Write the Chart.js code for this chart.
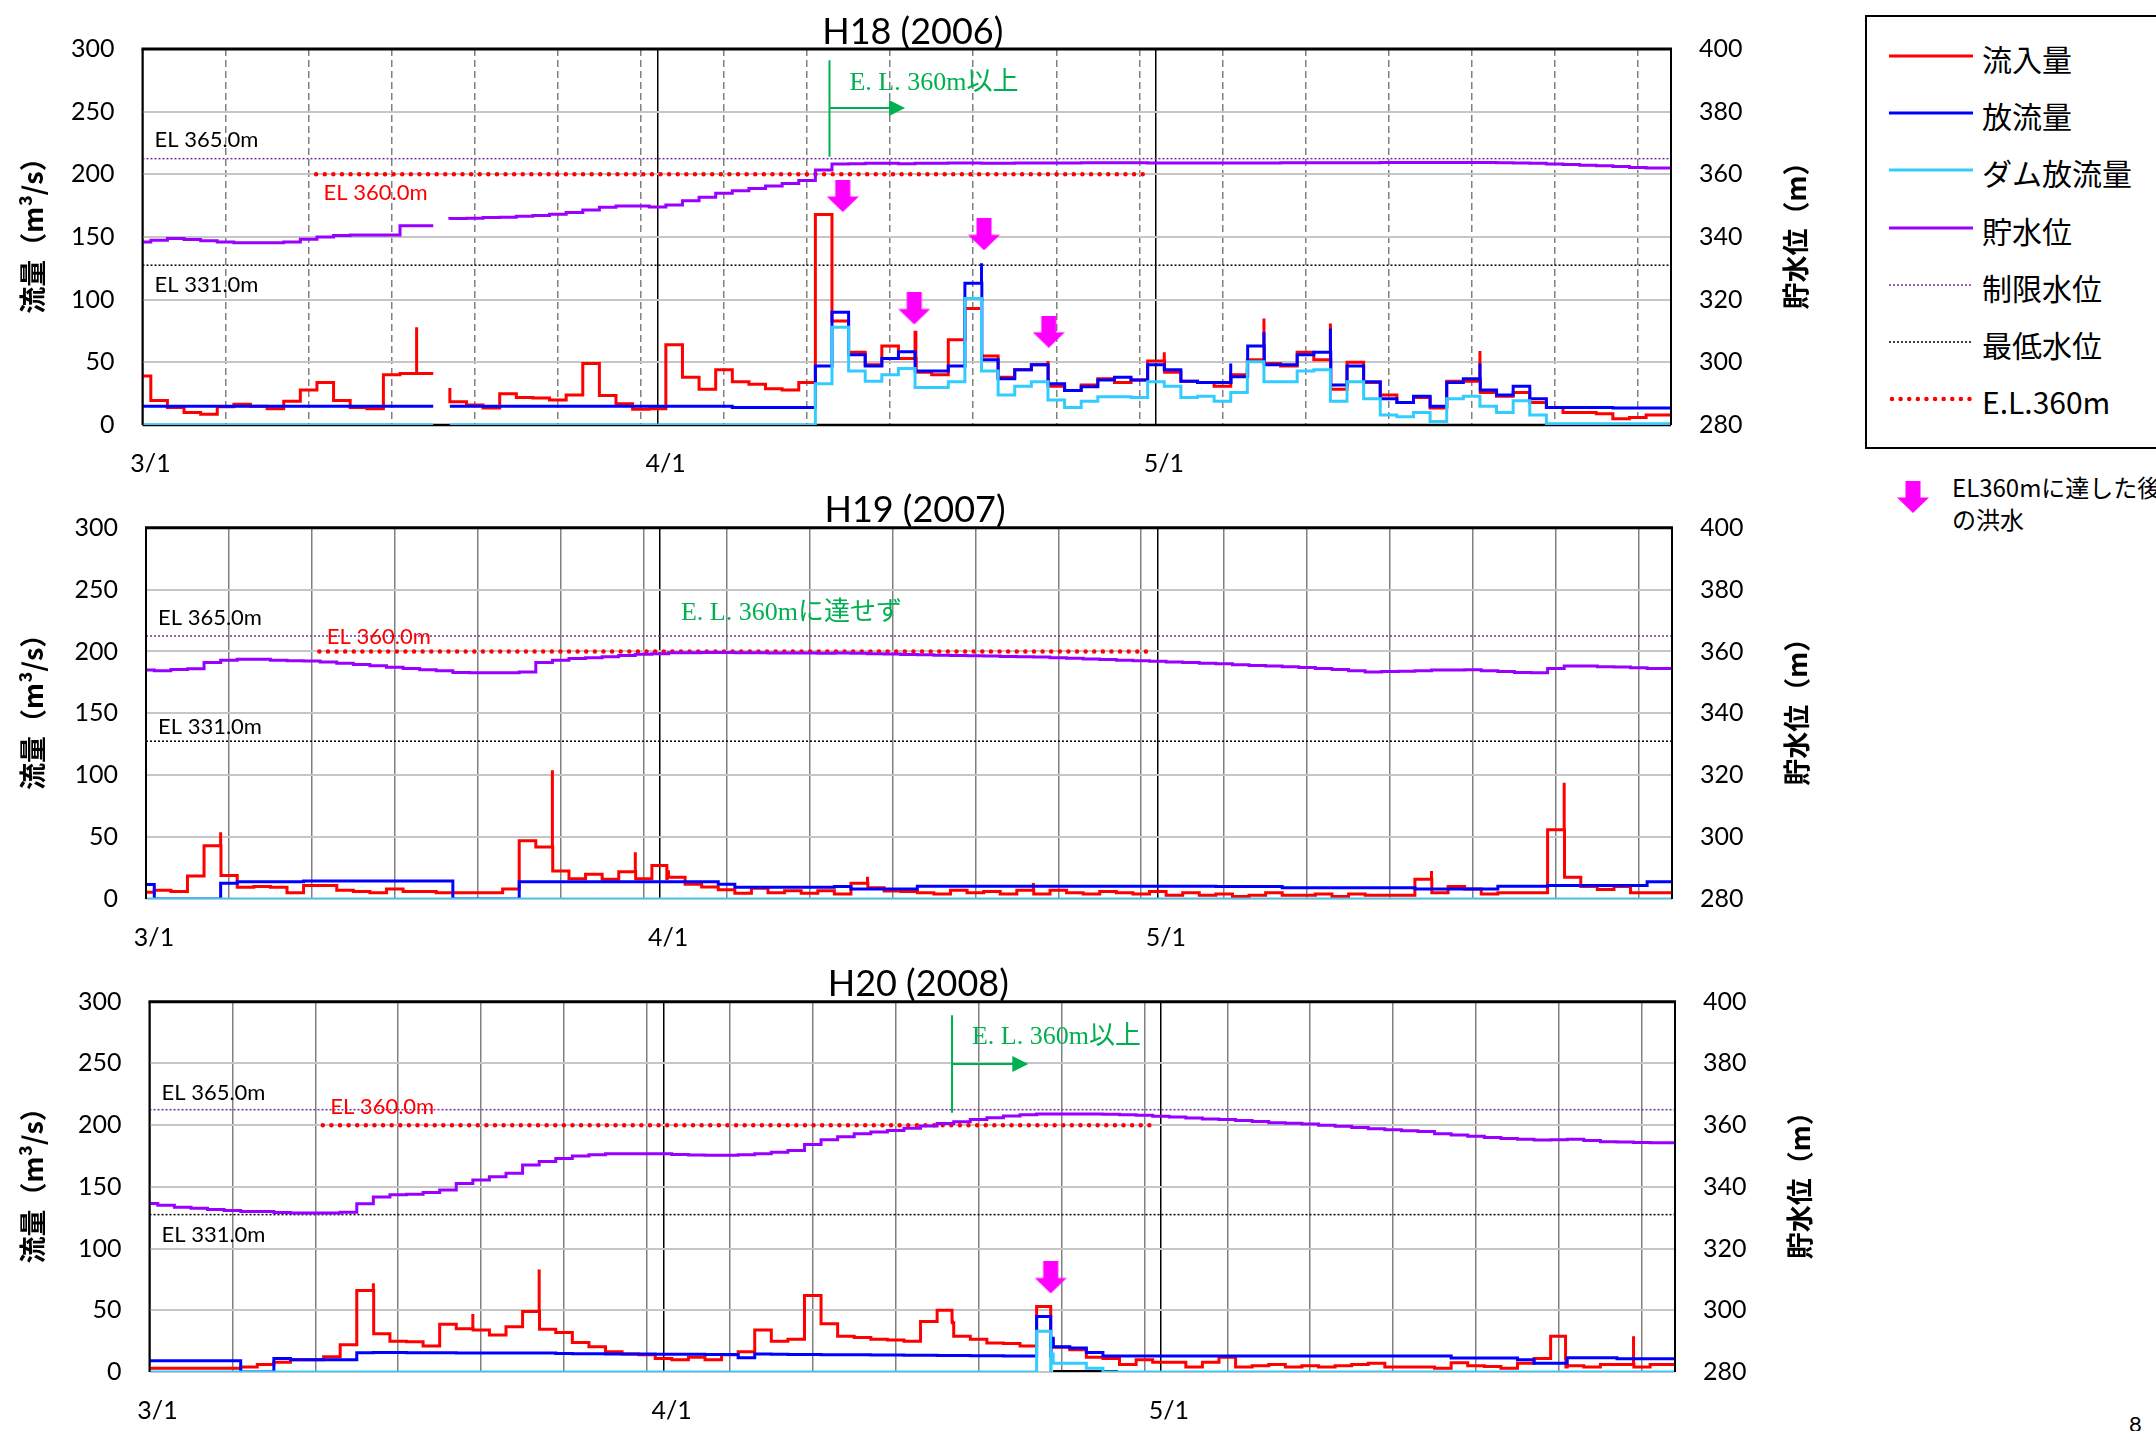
<!DOCTYPE html>
<html lang="ja">
<head>
<meta charset="utf-8">
<title>流量・貯水位 H18〜H20</title>
<script src="https://cdn.jsdelivr.net/npm/chart.js"></script>
<style>
  body { margin: 0; background: #fff; }
  #page { position: relative; width: 2156px; height: 1431px; overflow: hidden; background: #fff; }
  canvas.panel { position: absolute; left: 0; }
  #legend { position: absolute; left: 1865px; top: 15px; width: 300px; height: 434px; border: 2px solid #000; box-sizing: border-box; }
  .item { position: absolute; left: 0; width: 100%; height: 40px; }
  .item canvas { position: absolute; left: 22px; top: 15px; }
  .item span { position: absolute; left: 115px; top: 0; line-height: 40px; font: 30px "Noto Sans CJK JP"; white-space: nowrap; }
  #flood { position: absolute; left: 1897px; top: 481px; }
  #floodText { position: absolute; left: 1952px; top: 471px; font: 24px "Noto Sans CJK JP"; line-height: 32px; white-space: nowrap; }
  #pageNo { position: absolute; left: 2129px; top: 1410px; font: 22px Lato; }
</style>
</head>
<body>
<div id="page">
  <canvas id="c1" class="panel" width="1850" height="480" style="top:0px"></canvas>
  <canvas id="c2" class="panel" width="1850" height="476" style="top:480px"></canvas>
  <canvas id="c3" class="panel" width="1850" height="476" style="top:955px"></canvas>
  <div id="legend"></div>
  <canvas id="flood" width="32" height="32"></canvas>
  <div id="floodText">EL360mに達した後<br>の洪水</div>
  <div id="pageNo">8</div>
</div>
<script>
// 3/1 = day 0, one value per day (value i covers day i-0.5 .. i+0.5)
const gridDays = [0, 5, 10, 15, 20, 25, 30, 31, 35, 40, 45, 50, 55, 60, 61, 65, 70, 75, 80, 85, 90];
const monthDays = [0, 31, 61];
const monthLabels = ['3/1', '4/1', '5/1'];
const flowTicks = [0, 50, 100, 150, 200, 250, 300];
const levelTicks = [280, 300, 320, 340, 360, 380, 400];
const titles = ['H18 (2006)', 'H19 (2007)', 'H20 (2008)'];
const seriesNames = ['流入量', '放流量', 'ダム放流量', '貯水位', '制限水位', '最低水位', 'E.L.360m'];
const levelNames = ['EL 365.0m', 'EL 331.0m', 'EL 360.0m'];
const limitLevel = 365, lowestLevel = 331, targetLevel = 360;
const targetFrom = 10.45, targetTo = 60.45;

// H18 (2006)
const h18Inflow = [16, 39, 19.5, 14, 10, 8.5, 14.5, 16.5, 15, 13,
  19, 28, 34, 19.5, 14, 13, 40, 41, null, 29.5,
  18.5, 16, 13.5, 25, 22, 21.5, 20, 24, 49, 23.5,
  17, 12.5, 13, 64, 38, 28.5, 44, 34.5, 32.5, 29,
  28, 34, 168, 83, 58, 48, 63, 53, 42, 40,
  68, 93, 55, 38, 44, 48, 31, 27.5, 32, 37,
  34, 36, 51, 42, 35, 34, 31, 40, 52, 49,
  47, 58, 52, 28.5, 50, 34, 24, 18, 22, 13.5,
  35, 35, 26, 23, 26, 18, 14, 10, 10, 9,
  5, 6, 8];
const h18InSpikeX = [16.5, 46.55, 54.5, 61.5, 67.5, 71.5, 80.5];
const h18InSpikeY = [78, 74, 51, 58, 85, 81, 59];
const h18Outflow = [15, 15, 15, 15, 15, 15, 15, 15, 15, 15,
  15, 15, 15, 15, 15, 15, 15, 15, null, 15,
  15, 15, 15, 15, 15, 15, 15, 15, 15, 15,
  15, 15, 15, 15, 15, 15, 15, 14, 14, 14,
  14, 14, 47, 90, 56, 47, 53, 58.5, 43, 43,
  47, 113, 52, 37, 44, 48, 33, 27.5, 30.5, 36,
  38, 36, 48, 44, 35, 34, 34, 38.5, 63, 48,
  48, 56, 58, 32, 47, 34.6, 21, 18, 23, 15,
  34, 37, 28, 24, 31, 21, 14, 14, 14, 14,
  13.5, 13.5, 13.5];
const h18OutSpikeX = [50.5, 65.5, 66.5, 67.5, 71.5, 80.5];
const h18OutSpikeY = [129, 49, 46, 74, 77, 49];
const h18DamOut = [0, 0, 0, 0, 0, 0, 0, 0, 0, 0,
  0, 0, 0, 0, 0, 0, 0, 0, null, 0,
  0, 0, 0, 0, 0, 0, 0, 0, 0, 0,
  0, 0, 0, 0, 0, 0, 0, 0, 0, 0,
  0, 0, 33, 78, 43, 35, 40, 45, 30, 30,
  34.6, 101, 43, 24, 31, 34.6, 20, 14, 19, 22.6,
  22.6, 22, 34.6, 31, 22, 23, 19, 26, 50.5, 34.6,
  34.6, 43, 44, 19, 34.6, 21, 8, 6.6, 10, 2.7,
  21, 23, 15, 10, 19.4, 8, 1, 1, 1, 1,
  1, 1, 1];
const h18Level = [337.7, 338.4, 339.0, 339.5, 339.2, 338.8, 338.4, 338.2, 338.2, 338.2,
  338.4, 339.3, 340.0, 340.5, 340.6, 340.6, 340.6, 343.6, null, 345.5,
  345.9, 346.0, 346.2, 346.3, 346.6, 346.9, 347.3, 347.8, 348.6, 349.5,
  349.9, 349.9, 349.6, 350.2, 351.6, 352.7, 354.0, 354.8, 355.5, 356.3,
  357.1, 358.0, 361.4, 363.3, 363.4, 363.5, 363.5, 363.4, 363.5, 363.5,
  363.6, 363.6, 363.5, 363.5, 363.6, 363.6, 363.6, 363.6, 363.7, 363.7,
  363.7, 363.7, 363.6, 363.6, 363.6, 363.6, 363.6, 363.6, 363.6, 363.6,
  363.7, 363.7, 363.7, 363.7, 363.7, 363.7, 363.8, 363.8, 363.8, 363.8,
  363.8, 363.8, 363.8, 363.7, 363.6, 363.5, 363.3, 363.1, 362.9, 362.7,
  362.5, 362.2, 362.0];
const h18FloodX = [42.15, 46.45, 50.65, 54.55];
const h18FloodY = [182.7, 93, 152.1, 74.4];

// H19 (2007)
const h19Inflow = [5.4, 5.4, 7, 6, 18.6, 43, 19, 9.4, 10, 9.5,
  5, 11, 11, 7, 6, 5, 8, 6, 6, 5,
  5, 5, 5, 8, 47, 42, 22.6, 16.4, 20, 16,
  22, 16.4, 22, 17.5, 12, 9.7, 7.5, 4.6, 8.6, 5,
  6.7, 4.6, 6.7, 4, 12.7, 9, 6.5, 6, 5, 4,
  7, 5, 6, 4, 7, 4, 7, 5, 4, 6,
  5, 4, 6, 3, 5, 3, 4, 2, 3, 5,
  3, 3, 4, 2, 4, 3, 3, 3, 16, 5,
  10, 8, 4, 5, 5, 5, 56, 17.5, 10, 7.6,
  10, 5, 5];
const h19InSpikeX = [4.5, 24.5, 29.5, 31.4, 43.5, 53.5, 77.5, 85.5];
const h19InSpikeY = [54, 104, 37.7, 27, 18, 13, 22.6, 94];
const h19Outflow = [11.8, 11.8, 0, 0, 0, 0, 12.7, 14, 14, 14,
  14, 14.5, 14.5, 14.5, 14.5, 14.5, 14.5, 14.5, 14.5, 14.5,
  0, 0, 0, 0, 14, 14, 14, 14, 14, 14,
  14, 14, 14, 14, 14, 14, 12, 9.5, 9.5, 9.5,
  9.5, 9.5, 9.5, 10, 8, 8, 8, 8, 10.3, 10.3,
  10.3, 10.3, 10.3, 10.3, 10.3, 10.3, 10.3, 10.3, 10.3, 10.3,
  10.3, 10.3, 10.3, 10.3, 10.3, 10.3, 10, 10, 10, 10,
  9, 9, 9, 9, 9, 9, 9, 9, 8, 8,
  8, 8, 8, 10.3, 10.3, 10.3, 11, 11, 11, 11,
  11, 11, 14];
const h19DamOut = [0, 0, 0, 0, 0, 0, 0, 0, 0, 0,
  0, 0, 0, 0, 0, 0, 0, 0, 0, 0,
  0, 0, 0, 0, 0, 0, 0, 0, 0, 0,
  0, 0, 0, 0, 0, 0, 0, 0, 0, 0,
  0, 0, 0, 0, 0, 0, 0, 0, 0, 0,
  0, 0, 0, 0, 0, 0, 0, 0, 0, 0,
  0, 0, 0, 0, 0, 0, 0, 0, 0, 0,
  0, 0, 0, 0, 0, 0, 0, 0, 0, 0,
  0, 0, 0, 0, 0, 0, 0, 0, 0, 0,
  0, 0, 0];
const h19Level = [354.2, 354.0, 353.8, 354.2, 354.4, 356.4, 357.2, 357.5, 357.5, 357.2,
  357.0, 356.9, 356.6, 356.2, 355.8, 355.4, 354.9, 354.5, 354.1, 353.8,
  353.2, 353.1, 353.1, 353.1, 353.4, 356.4, 357.2, 357.7, 358.0, 358.3,
  358.7, 359.1, 359.3, 359.6, 359.6, 359.7, 359.7, 359.6, 359.6, 359.5,
  359.5, 359.5, 359.4, 359.5, 359.4, 359.3, 359.2, 359.0, 358.9, 358.8,
  358.7, 358.6, 358.5, 358.4, 358.3, 358.2, 358.0, 357.8, 357.6, 357.4,
  357.2, 357.0, 356.8, 356.6, 356.4, 356.2, 356.0, 355.7, 355.5, 355.3,
  355.1, 354.8, 354.5, 354.2, 353.8, 353.4, 353.5, 353.6, 353.8, 354.0,
  354.0, 354.1, 353.8, 353.5, 353.2, 353.1, 354.5, 355.3, 355.3, 355.1,
  355.0, 354.7, 354.5];

// H20 (2008)
const h20Inflow = [3, 3, 3, 3, 3, 3, 3, 4, 6, 8,
  10, 10, 12.4, 22, 66, 31, 25, 24.6, 21, 38.6,
  35, 34, 30, 36.7, 49, 34.6, 32, 24, 20.5, 16.5,
  14.6, 14, 11, 10, 12, 10, 14, 16.5, 34, 25,
  26.5, 62, 39, 29, 28, 26.5, 26, 25, 41, 40,
  29, 26.5, 23.5, 23, 21, 26, 20, 18, 12, 11,
  6, 10, 8, 8, 4, 8, 12, 4, 5, 6,
  4, 5, 4, 5, 6, 7, 4, 4, 4, 3,
  7.5, 5, 4.5, 3, 7, 11, 4, 5, 4, 6,
  6, 4, 6];
const h20InSpikeX = [13.5, 19.5, 23.5, 48.4, 54.35, 85.4, 89.5];
const h20InSpikeY = [72, 47, 83, 50, 53, 29, 29];
const h20Outflow = [9.2, 9.2, 9.2, 9.2, 9.2, 9.2, 9.2, 0, 0, 11,
  10, 10, 10, 10, 15.5, 15.7, 15.7, 15.6, 15.5, 15.5,
  15.3, 15.3, 15.4, 15.4, 15.4, 15.3, 15, 14.8, 14.7, 14.6,
  14.5, 14.5, 14.4, 14.3, 14.3, 14.2, 14.2, 11.6, 14.5, 14.3,
  14.2, 14.1, 14, 14, 13.9, 13.8, 13.7, 13.6, 13.5, 13.4,
  13.3, 13.2, 13.1, 13, 13, 27.3, 20.5, 19.5, 15.7, 13,
  13, 13, 13, 13, 13, 13, 13, 13, 13, 13,
  13, 13, 13, 13, 13, 13, 13, 13, 13, 13,
  11.3, 11.3, 11.3, 11.3, 10, 7, 7, 11.6, 11.6, 11.6,
  10.8, 10.8, 10.8];
const h20OutSpikeX = [54.35];
const h20OutSpikeY = [45];
const h20DamOut = [0, 0, 0, 0, 0, 0, 0, 0, 0, 0,
  0, 0, 0, 0, 0, 0, 0, 0, 0, 0,
  0, 0, 0, 0, 0, 0, 0, 0, 0, 0,
  0, 0, 0, 0, 0, 0, 0, 0, 0, 0,
  0, 0, 0, 0, 0, 0, 0, 0, 0, 0,
  0, 0, 0, 0, 0, 14.6, 7, 7, 3, 0,
  0, 0, 0, 0, 0, 0, 0, 0, 0, 0,
  0, 0, 0, 0, 0, 0, 0, 0, 0, 0,
  0, 0, 0, 0, 0, 0, 0, 0, 0, 0,
  0, 0, 0];
const h20DamSpikeX = [54.35];
const h20DamSpikeY = [33];
const h20Level = [334.9, 334.6, 334.0, 333.4, 333.1, 332.7, 332.3, 332.0, 332.0, 331.7,
  331.5, 331.5, 331.5, 331.8, 334.5, 336.7, 337.4, 337.6, 338.2, 339.0,
  341.1, 342.2, 343.3, 344.4, 347.1, 348.2, 349.2, 350.0, 350.4, 350.7,
  350.7, 350.7, 350.7, 350.5, 350.3, 350.2, 350.2, 350.4, 350.7, 351.2,
  351.8, 353.7, 355.3, 356.2, 357.2, 357.8, 358.3, 359.0, 359.7, 360.5,
  361.1, 361.8, 362.4, 363.0, 363.4, 363.6, 363.6, 363.6, 363.6, 363.5,
  363.4, 363.2, 362.9, 362.6, 362.3, 362.0, 361.8, 361.5, 361.2, 360.8,
  360.6, 360.4, 360.0, 359.6, 359.2, 358.8, 358.5, 358.2, 357.9, 357.2,
  356.8, 356.4, 356.0, 355.7, 355.4, 355.2, 355.3, 355.4, 355.0, 354.6,
  354.5, 354.4, 354.3];
const h20FloodX = [54.35];
const h20FloodY = [76.6];
const h20BaseX = [54.5, 58.4];

const styles = {
  inflow: { color: '#ff0000', width: 3 },
  outflow: { color: '#0000ff', width: 3 },
  damOut: { color: '#33ccff', width: 3 },
  level: { color: '#9900ff', width: 3 },
  limit: { color: '#7030a0', width: 1.5, dash: [2, 2] },
  lowest: { color: '#000000', width: 1.5, dash: [2, 2] },
  target: { color: '#ff0000', width: 4.5, dash: [0.01, 8.6], cap: 'round' }
};
const legendKeys = ['inflow', 'outflow', 'damOut', 'level', 'limit', 'lowest', 'target'];

const notes = [
  { text: 'E. L. 360m以上', day: 42.55, at: 273, lineDay: 41.35, lineFrom: 291, lineTo: 214, arrowAt: 253, arrowDay: 45.9 },
  { text: 'E. L. 360mに達せず', day: 32.25, at: 231 },
  { text: 'E. L. 360m以上', day: 49.6, at: 271, lineDay: 48.4, lineFrom: 289, lineTo: 210, arrowAt: 249.5, arrowDay: 53 }
];

const panels = [
  { canvas: 'c1', area: { left: 142.5, right: 1671, top: 49, bottom: 425 }, dashed: true, bottomLine: true, labelDy: [-19, 20, 19],
    inflow: [h18Inflow, h18InSpikeX, h18InSpikeY], outflow: [h18Outflow, h18OutSpikeX, h18OutSpikeY], damOut: [h18DamOut, [], []],
    level: h18Level, flood: [h18FloodX, h18FloodY], base: null },
  { canvas: 'c2', area: { left: 146, right: 1672, top: 47.7, bottom: 419 }, dashed: false, bottomLine: false, labelDy: [-18, -14, -15],
    inflow: [h19Inflow, h19InSpikeX, h19InSpikeY], outflow: [h19Outflow, [], []], damOut: [h19DamOut, [], []],
    level: h19Level, flood: [[], []], base: null },
  { canvas: 'c3', area: { left: 149.5, right: 1675, top: 46.7, bottom: 417 }, dashed: false, bottomLine: false, labelDy: [-17, 20, -18],
    inflow: [h20Inflow, h20InSpikeX, h20InSpikeY], outflow: [h20Outflow, h20OutSpikeX, h20OutSpikeY], damOut: [h20DamOut, h20DamSpikeX, h20DamSpikeY],
    level: h20Level, flood: [h20FloodX, h20FloodY], base: h20BaseX }
];

Chart.defaults.font.family = 'Lato, "Noto Sans CJK JP", sans-serif';
Chart.defaults.color = '#000';

function drawArrow(cv) {
  const g = cv.getContext('2d');
  g.fillStyle = '#ff00ff';
  g.fillRect(8.5, 0, 15, 17);
  g.beginPath(); g.moveTo(0, 16.5); g.lineTo(32, 16.5); g.lineTo(16, 32); g.closePath(); g.fill();
  return cv;
}
const arrowImg = drawArrow(Object.assign(document.createElement('canvas'), { width: 32, height: 32 }));
drawArrow(document.getElementById('flood'));

// daily values -> step points, with gaps (null) and short spikes
function steps(vals, spX, spY) {
  const pts = [];
  vals.forEach((v, i) => {
    if (v === null) pts.push({ x: i - 0.5, y: vals[i - 1] }, { x: i - 0.5, y: null });
    else pts.push({ x: i - 0.5, y: v });
  });
  pts.push({ x: vals.length - 0.5, y: vals[vals.length - 1] });
  spX.forEach((sx, j) => {
    const i = Math.min(vals.length - 1, Math.floor(sx + 0.5));
    pts.push({ x: sx, y: spY[j] }, { x: sx + 0.02, y: vals[i] });
  });
  return pts.sort((a, b) => a.x - b.x);
}

function lineSet(label, data, st, axis, order, stepped) {
  return { label, data, borderColor: st.color, borderWidth: st.width, borderDash: st.dash || [],
    borderCapStyle: st.cap || 'butt', pointRadius: 0, stepped, yAxisID: axis, order, fill: false };
}

function decor(p, idx) {
  return {
    id: 'decor',
    beforeDatasetsDraw(chart) {
      const { ctx, chartArea: a } = chart;
      if (!p.bottomLine) return;
      ctx.save();
      ctx.strokeStyle = '#000'; ctx.lineWidth = 2.5;
      ctx.beginPath(); ctx.moveTo(a.left, a.bottom); ctx.lineTo(a.right, a.bottom); ctx.stroke();
      ctx.restore();
    },
    afterDatasetsDraw(chart) {
      const { ctx, chartArea: a, scales } = chart;
      const x = scales.x, y = scales.y, y2 = scales.y2;
      ctx.save();
      ctx.strokeStyle = '#000';
      ctx.lineWidth = 3;
      ctx.beginPath(); ctx.moveTo(a.left - 1, a.top); ctx.lineTo(a.right + 1, a.top); ctx.stroke();
      ctx.lineWidth = 2;
      ctx.beginPath();
      ctx.moveTo(a.left, a.top); ctx.lineTo(a.left, a.bottom);
      ctx.moveTo(a.right, a.top); ctx.lineTo(a.right, a.bottom);
      ctx.stroke();

      ctx.fillStyle = '#000';
      ctx.textAlign = 'center'; ctx.textBaseline = 'middle';
      ctx.font = '36px Lato';
      ctx.fillText(titles[idx], (a.left + a.right) / 2 + 6, a.top - 17);

      ctx.font = 'bold 27px "Noto Sans CJK JP"';
      const cy = (a.top + a.bottom) / 2 - 8;
      [[33, '流量（m³/s）'], [a.right + 125, '貯水位（m）']].forEach(([tx, t]) => {
        ctx.save(); ctx.translate(tx, cy); ctx.rotate(-Math.PI / 2); ctx.fillText(t, 0, 0); ctx.restore();
      });

      ctx.textAlign = 'left';
      ctx.font = '22px Lato';
      const lv = [limitLevel, lowestLevel, targetLevel];
      const lx = [a.left + 12, a.left + 12, x.getPixelForValue(10.9)];
      const lc = ['#000', '#000', '#ff0000'];
      lv.forEach((v, i) => {
        ctx.fillStyle = lc[i];
        ctx.fillText(levelNames[i], lx[i], y2.getPixelForValue(v) + p.labelDy[i]);
      });

      const n = notes[idx];
      ctx.fillStyle = ctx.strokeStyle = '#00b050';
      ctx.font = '26px "Liberation Serif", "Noto Sans CJK JP"';
      ctx.fillText(n.text, x.getPixelForValue(n.day), y.getPixelForValue(n.at));
      if (n.lineDay != null) {
        const vx = x.getPixelForValue(n.lineDay), ax = x.getPixelForValue(n.arrowDay), ay = y.getPixelForValue(n.arrowAt);
        ctx.lineWidth = 2;
        ctx.beginPath();
        ctx.moveTo(vx, y.getPixelForValue(n.lineFrom)); ctx.lineTo(vx, y.getPixelForValue(n.lineTo));
        ctx.moveTo(vx, ay); ctx.lineTo(ax - 14, ay);
        ctx.stroke();
        ctx.beginPath(); ctx.moveTo(ax - 16, ay - 8); ctx.lineTo(ax, ay); ctx.lineTo(ax - 16, ay + 8); ctx.closePath(); ctx.fill();
      }
      ctx.restore();
    }
  };
}

panels.forEach((p, idx) => {
  const cv = document.getElementById(p.canvas);
  const W = cv.width, H = cv.height, A = p.area;
  const datasets = [
    lineSet(seriesNames[0], steps(...p.inflow), styles.inflow, 'y', 5, 'after'),
    lineSet(seriesNames[1], steps(...p.outflow), styles.outflow, 'y', 4, 'after'),
    lineSet(seriesNames[2], steps(...p.damOut), styles.damOut, 'y', 3, 'after'),
    lineSet(seriesNames[3], steps(p.level, [], []), styles.level, 'y2', 2, 'after'),
    lineSet(seriesNames[4], [{ x: 0, y: limitLevel }, { x: 92, y: limitLevel }], styles.limit, 'y2', 7, false),
    lineSet(seriesNames[5], [{ x: 0, y: lowestLevel }, { x: 92, y: lowestLevel }], styles.lowest, 'y2', 7, false),
    lineSet(seriesNames[6], [{ x: targetFrom, y: targetLevel }, { x: targetTo, y: targetLevel }], styles.target, 'y2', 6, false),
    { label: 'flood', data: p.flood[0].map((d, i) => ({ x: d, y: p.flood[1][i] })), showLine: false,
      pointStyle: arrowImg, pointRadius: 5, yAxisID: 'y', order: 0 }
  ];
  if (p.base) datasets.push(lineSet('base', p.base.map(d => ({ x: d, y: 0 })), { color: '#000', width: 4 }, 'y', 8, false));

  new Chart(cv, {
    type: 'line',
    data: { datasets },
    options: {
      responsive: false, animation: false, events: [],
      layout: { padding: { top: A.top, left: 0, right: 0, bottom: 0 } },
      plugins: { legend: { display: false }, tooltip: { enabled: false }, title: { display: false } },
      scales: {
        x: {
          type: 'linear', min: 0, max: 92,
          afterBuildTicks: s => { s.ticks = gridDays.map(v => ({ value: v })); },
          afterFit: s => { s.height = H - A.bottom; },
          ticks: { autoSkip: false, maxRotation: 0, labelOffset: 8, padding: 24, font: { size: 25 },
            callback: v => { const k = monthDays.indexOf(v); return k >= 0 ? monthLabels[k] : ''; } },
          grid: { drawTicks: false, lineWidth: 1.5,
            color: c => monthDays.includes(c.tick && c.tick.value) ? '#000' : '#808080' },
          border: { display: false,
            dash: c => (p.dashed && !monthDays.includes(c.tick && c.tick.value)) ? [7, 4] : [] }
        },
        y: {
          position: 'left', min: 0, max: 300,
          afterBuildTicks: s => { s.ticks = flowTicks.map(v => ({ value: v })); },
          afterFit: s => { s.width = A.left; },
          ticks: { padding: 28, font: { size: 25 } },
          grid: { drawTicks: false, color: '#c6c6c6', lineWidth: 2 },
          border: { display: false }
        },
        y2: {
          position: 'right', min: 280, max: 400,
          afterBuildTicks: s => { s.ticks = levelTicks.map(v => ({ value: v })); },
          afterFit: s => { s.width = W - A.right; },
          ticks: { padding: 28, font: { size: 25 } },
          grid: { drawOnChartArea: false, drawTicks: false },
          border: { display: false }
        }
      }
    },
    plugins: [decor(p, idx)]
  });
});

// legend box
const legend = document.getElementById('legend');
legendKeys.forEach((k, i) => {
  const st = styles[k];
  const row = document.createElement('div');
  row.className = 'item';
  row.style.top = (56 + i * 57.2 - 17 - 20) + 'px';
  const sw = document.createElement('canvas');
  sw.width = 84; sw.height = 10;
  const g = sw.getContext('2d');
  g.strokeStyle = st.color; g.lineWidth = st.width;
  g.setLineDash(st.dash || []); g.lineCap = st.cap || 'butt';
  g.beginPath(); g.moveTo(st.cap ? 3 : 0, 5); g.lineTo(84, 5); g.stroke();
  const tx = document.createElement('span');
  tx.textContent = seriesNames[i];
  row.append(sw, tx);
  legend.append(row);
});
</script>
</body>
</html>
